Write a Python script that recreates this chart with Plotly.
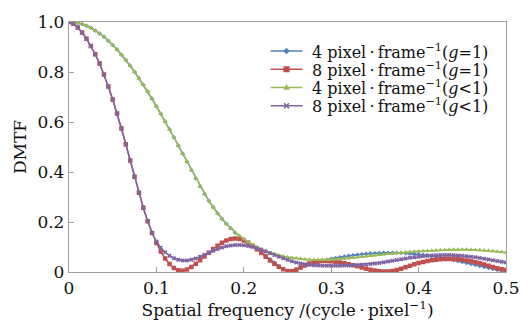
import numpy as np
import plotly.graph_objects as go

# spatial frequency sampling grid (cycle/pixel)
freq = np.round(np.arange(0, 0.5001, 0.005), 3)

dmtf_4_g1 = [
    1.000, 0.999, 0.996, 0.992, 0.985, 0.977, 0.966, 0.954, 0.941, 0.925,
    0.908, 0.890, 0.869, 0.848, 0.825, 0.801, 0.775, 0.749, 0.722, 0.693,
    0.663, 0.633, 0.602, 0.571, 0.539, 0.506, 0.474, 0.441, 0.408, 0.375,
    0.343, 0.313, 0.285, 0.259, 0.235, 0.213, 0.193, 0.175, 0.157, 0.143,
    0.130, 0.118, 0.105, 0.092, 0.079, 0.065, 0.051, 0.037, 0.024, 0.012,
    0.003, 0.005, 0.011, 0.018, 0.024, 0.030, 0.035, 0.040, 0.045, 0.049,
    0.053, 0.056, 0.059, 0.062, 0.065, 0.067, 0.069, 0.071, 0.073, 0.074,
    0.075, 0.076, 0.077, 0.077, 0.077, 0.077, 0.076, 0.075, 0.074, 0.073,
    0.071, 0.069, 0.067, 0.064, 0.061, 0.058, 0.055, 0.052, 0.048, 0.044,
    0.040, 0.036, 0.032, 0.028, 0.024, 0.020, 0.016, 0.012, 0.008, 0.005,
    0.002]

dmtf_8_g1 = [
    1.000, 0.993, 0.978, 0.958, 0.933, 0.904, 0.871, 0.834, 0.790, 0.742,
    0.690, 0.634, 0.574, 0.511, 0.446, 0.381, 0.317, 0.257, 0.203, 0.156,
    0.116, 0.082, 0.054, 0.032, 0.016, 0.007, 0.005, 0.010, 0.020, 0.033,
    0.047, 0.062, 0.077, 0.092, 0.105, 0.117, 0.126, 0.132, 0.134, 0.132,
    0.126, 0.117, 0.105, 0.091, 0.076, 0.061, 0.046, 0.033, 0.021, 0.011,
    0.004, 0.003, 0.009, 0.018, 0.027, 0.034, 0.039, 0.042, 0.044, 0.044,
    0.043, 0.041, 0.038, 0.035, 0.031, 0.027, 0.023, 0.018, 0.013, 0.009,
    0.006, 0.003, 0.002, 0.002, 0.004, 0.008, 0.013, 0.019, 0.025, 0.031,
    0.036, 0.040, 0.044, 0.047, 0.049, 0.051, 0.052, 0.052, 0.052, 0.051,
    0.049, 0.046, 0.043, 0.039, 0.035, 0.030, 0.025, 0.020, 0.015, 0.011,
    0.008]

dmtf_4_glt1 = [
    1.000, 0.999, 0.996, 0.992, 0.985, 0.977, 0.966, 0.954, 0.941, 0.925,
    0.908, 0.890, 0.869, 0.848, 0.825, 0.801, 0.775, 0.749, 0.722, 0.693,
    0.663, 0.633, 0.602, 0.571, 0.539, 0.506, 0.474, 0.441, 0.408, 0.375,
    0.343, 0.313, 0.285, 0.259, 0.235, 0.213, 0.193, 0.175, 0.159, 0.145,
    0.132, 0.120, 0.110, 0.100, 0.092, 0.084, 0.078, 0.072, 0.067, 0.063,
    0.060, 0.057, 0.055, 0.053, 0.051, 0.050, 0.049, 0.049, 0.049, 0.049,
    0.050, 0.051, 0.052, 0.054, 0.055, 0.057, 0.059, 0.061, 0.063, 0.065,
    0.067, 0.069, 0.071, 0.073, 0.074, 0.076, 0.077, 0.079, 0.080, 0.082,
    0.083, 0.084, 0.085, 0.086, 0.087, 0.088, 0.089, 0.089, 0.090, 0.090,
    0.090, 0.090, 0.089, 0.089, 0.088, 0.087, 0.086, 0.084, 0.082, 0.080,
    0.078]

dmtf_8_glt1 = [
    1.000, 0.993, 0.978, 0.958, 0.933, 0.904, 0.871, 0.834, 0.790, 0.742,
    0.690, 0.634, 0.574, 0.511, 0.446, 0.381, 0.317, 0.257, 0.203, 0.156,
    0.122, 0.097, 0.079, 0.065, 0.055, 0.049, 0.046, 0.046, 0.049, 0.054,
    0.061, 0.069, 0.077, 0.085, 0.092, 0.098, 0.103, 0.106, 0.108, 0.108,
    0.107, 0.104, 0.100, 0.095, 0.089, 0.082, 0.075, 0.068, 0.061, 0.055,
    0.049, 0.043, 0.038, 0.034, 0.031, 0.029, 0.027, 0.026, 0.025, 0.025,
    0.025, 0.025, 0.025, 0.026, 0.026, 0.027, 0.028, 0.029, 0.030, 0.032,
    0.034, 0.036, 0.039, 0.042, 0.045, 0.048, 0.051, 0.054, 0.057, 0.059,
    0.061, 0.063, 0.065, 0.066, 0.067, 0.068, 0.068, 0.068, 0.067, 0.066,
    0.065, 0.063, 0.061, 0.059, 0.056, 0.053, 0.050, 0.047, 0.044, 0.041,
    0.038]

DOT = "\u2009·\u2009"
series_names = [
    f"4 pixel{DOT}frame<sup>−1</sup>(<i>g</i>=1)",
    f"8 pixel{DOT}frame<sup>−1</sup>(<i>g</i>=1)",
    f"4 pixel{DOT}frame<sup>−1</sup>(<i>g</i><1)",
    f"8 pixel{DOT}frame<sup>−1</sup>(<i>g</i><1)",
]
series_values = [dmtf_4_g1, dmtf_8_g1, dmtf_4_glt1, dmtf_8_glt1]
colors = ["#4F81BD", "#C0504D", "#9BBB59", "#8064A2"]
symbols = ["diamond", "square", "triangle-up", "x"]
msizes = [3.5, 4.5, 4.5, 4]

x_tickvals = [0, 0.1, 0.2, 0.3, 0.4, 0.5]
x_ticktext = ["0", "0.1", "0.2", "0.3", "0.4", "0.5"]
y_tickvals = [0, 0.2, 0.4, 0.6, 0.8, 1.0]
y_ticktext = ["0", "0.2", "0.4", "0.6", "0.8", "1.0"]

FONT = "DejaVu Serif"
W, H = 532, 322
ML, MR, MT, MB = 69, 12, 20, 48
PW, PH = W - ML - MR, H - MT - MB

fig = go.Figure()
for name, vals, c, s, ms in zip(series_names, series_values, colors, symbols, msizes):
    fig.add_trace(go.Scatter(
        x=freq, y=vals, name=name, mode="lines+markers",
        line=dict(color=c, width=1.5),
        marker=dict(symbol=s, size=ms, color=c, line=dict(width=0)),
        showlegend=False,
    ))

# ---- compact legend (layout decoration in paper coordinates) ----
def px_x(p):
    return (p - ML) / PW

def px_y(p):
    return (H - MB - p) / PH

legend_rows_px = [49.5, 68.0, 86.5, 105.0]
sample_x0, sample_x1, text_x = 277, 310, 318
glyph_paths = {
    "diamond": "M 0 3 L 3 0 L 0 -3 L -3 0 Z",
    "square": "M -2.8 -2.8 L 2.8 -2.8 L 2.8 2.8 L -2.8 2.8 Z",
    "triangle-up": "M 0 3 L 3 -2 L -3 -2 Z",
}
shapes = []
annotations = []
for name, c, s, ry in zip(series_names, colors, symbols, legend_rows_px):
    yp = px_y(ry)
    shapes.append(dict(type="line", xref="paper", yref="paper",
                       x0=px_x(sample_x0), x1=px_x(sample_x1), y0=yp, y1=yp,
                       line=dict(color=c, width=1.5)))
    xm = px_x((sample_x0 + sample_x1) / 2)
    if s == "x":
        for d in [(-2.5, -2.5, 2.5, 2.5), (-2.5, 2.5, 2.5, -2.5)]:
            shapes.append(dict(type="line", xref="paper", yref="paper",
                               xsizemode="pixel", ysizemode="pixel",
                               xanchor=xm, yanchor=yp,
                               x0=d[0], y0=d[1], x1=d[2], y1=d[3],
                               line=dict(color=c, width=1.5)))
    else:
        shapes.append(dict(type="path", xref="paper", yref="paper",
                           xsizemode="pixel", ysizemode="pixel",
                           xanchor=xm, yanchor=yp, path=glyph_paths[s],
                           fillcolor=c, line=dict(color=c, width=0.5)))
    annotations.append(dict(text=name, xref="paper", yref="paper",
                            x=px_x(text_x), y=yp, xanchor="left", yanchor="middle",
                            showarrow=False, font=dict(family=FONT, size=16, color="#111")))

axis_common = dict(
    showline=True, linecolor="#a0a0a0", linewidth=1.3, mirror=True,
    ticks="inside", ticklen=5, tickcolor="#a0a0a0", tickwidth=1,
    showgrid=False, zeroline=False,
    tickfont=dict(family=FONT, size=17, color="#111"),
    ticklabeloverflow="allow",
)

fig.update_layout(
    width=W, height=H,
    margin=dict(l=ML, r=MR, t=MT, b=MB),
    paper_bgcolor="white", plot_bgcolor="white",
    font=dict(family=FONT, size=17, color="#111"),
    xaxis=dict(range=[0, 0.5], tickvals=x_tickvals, ticktext=x_ticktext,
               title=dict(text=f"Spatial frequency /(cycle{DOT}pixel<sup>−1</sup>)",
                          font=dict(family=FONT, size=17), standoff=1),
               **axis_common),
    yaxis=dict(range=[0, 1], tickvals=y_tickvals, ticktext=y_ticktext,
               title=dict(text="DMTF", font=dict(family=FONT, size=17), standoff=6),
               **axis_common),
    shapes=shapes,
    annotations=annotations,
    showlegend=False,
)

fig.write_html("out.html")
